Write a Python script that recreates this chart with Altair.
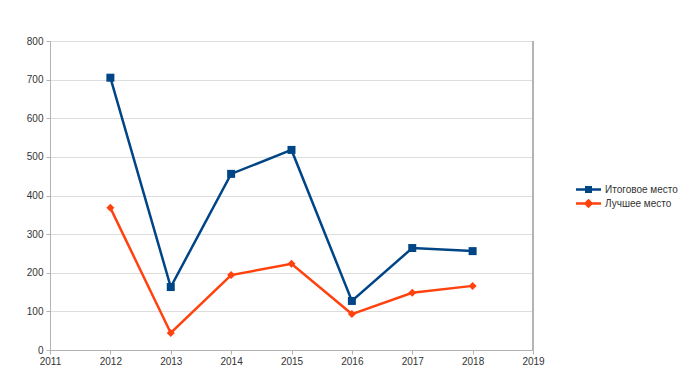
import altair as alt
import pandas as pd

years = [2012, 2013, 2014, 2015, 2016, 2017, 2018]
series_names = ["Итоговое место", "Лучшее место"]
final_place = [705, 163, 456, 518, 127, 264, 256]
best_place = [368, 44, 194, 223, 93, 148, 166]
x_ticks = [2011, 2012, 2013, 2014, 2015, 2016, 2017, 2018, 2019]
y_ticks = [0, 100, 200, 300, 400, 500, 600, 700, 800]
colors = ["#004586", "#ff420e"]
marker_shapes = ["square", "diamond"]

rows = []
for y, v in zip(years, final_place):
    rows.append({"year": y, "value": v, "series": series_names[0]})
for y, v in zip(years, best_place):
    rows.append({"year": y, "value": v, "series": series_names[1]})
df = pd.DataFrame(rows)

W, H = 483, 309
FONT = "Liberation Sans"

x_enc = alt.X("year:Q", scale=alt.Scale(domain=[2011, 2019], nice=False, zero=False),
              axis=alt.Axis(values=x_ticks, format="d", title=None, grid=False,
                            tickSize=4, labelPadding=2, labelFlush=False))
y_enc = alt.Y("value:Q", scale=alt.Scale(domain=[0, 800], nice=False),
              axis=alt.Axis(values=y_ticks, title=None, tickSize=4, labelPadding=3))

sym_square = "M-2.5,0H2.5M-0.7,-0.45H0.7M-0.7,0.45H0.7"
sym_diamond = "M-2.5,0H2.5M0,-0.6L0.6,0L0,0.6L-0.6,0ZM0,-0.5V0.5"
legend_expr = ("datum.value == '" + series_names[0] + "' ? '" + sym_square + "' : '" + sym_diamond + "'")

color_enc = alt.Color("series:N", scale=alt.Scale(domain=series_names, range=colors),
                      legend=alt.Legend(title=None, orient="none", legendX=532, legendY=142,
                                        symbolType=alt.ExprRef(legend_expr),
                                        symbolSize=100, symbolStrokeWidth=2.5,
                                        labelFont=FONT, labelFontSize=10, labelColor="#333333",
                                        rowPadding=-4, labelOffset=10))

lines = alt.Chart(df).mark_line(strokeWidth=2.5).encode(
    x=x_enc, y=y_enc, color=color_enc, detail="series:N")

point_layers = []
for name, col, shp in zip(series_names, colors, marker_shapes):
    point_layers.append(
        alt.Chart(df).transform_filter(alt.datum.series == name)
        .mark_point(filled=True, opacity=1, size=64, shape=shp, fill=col, stroke=col, strokeWidth=0)
        .encode(x=x_enc, y=y_enc)
    )

border = alt.Chart(df).mark_rule(color="#b3b3b3", strokeWidth=1).encode(
    x=alt.value(W), y=alt.value(0), y2=alt.value(H))

chart = alt.layer(lines, *point_layers, border).properties(
    width=W, height=H,
    autosize=alt.AutoSizeParams(type="none"),
    padding={"left": 42, "top": 33, "right": 158, "bottom": 31},
).configure_view(stroke=None).configure_axis(
    labelFont=FONT, labelFontSize=10, labelColor="#333333",
    domainColor="#b3b3b3", tickColor="#b3b3b3", gridColor="#dddddd",
)

chart.save("out.html", embed_options={"renderer": "svg", "actions": False})
